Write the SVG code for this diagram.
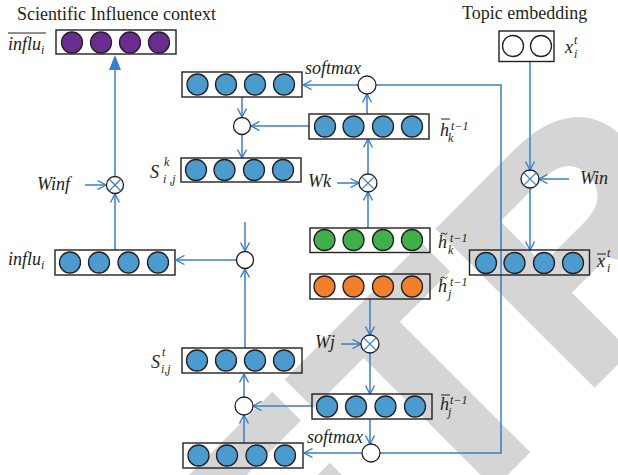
<svg xmlns="http://www.w3.org/2000/svg" width="618" height="475" viewBox="0 0 618 475">
<style>
.wm{font-family:"Liberation Sans",Arial,sans-serif;font-weight:bold;font-size:320px;fill:#d5d5d5;stroke:#d5d5d5;stroke-width:5;stroke-linejoin:miter}
.box{fill:none;stroke:#231f20;stroke-width:1.4}
.cb{fill:#4b9bcf;stroke:#231f20;stroke-width:1.3}
.cp{fill:#6b2c91;stroke:#231f20;stroke-width:1.3}
.cg{fill:#3fb04a;stroke:#231f20;stroke-width:1.3}
.co{fill:#f27f2c;stroke:#231f20;stroke-width:1.3}
.cw{fill:#fff;stroke:#231f20;stroke-width:1.3}
.op{fill:#fff;stroke:#231f20;stroke-width:1.3}
.x{stroke:#3a7dc9;stroke-width:1.3}
.ln{fill:none;stroke:#3a7dc9;stroke-width:1.5}
.ar{fill:none;stroke:#3a7dc9;stroke-width:1.5;marker-end:url(#v)}
.t{font-family:"Liberation Serif","Times New Roman",serif;fill:#231f20}
.m{font-family:"Liberation Serif","Times New Roman",serif;font-style:italic;fill:#231f20;font-size:18px}
.s{font-size:12px}
.ov{stroke:#231f20;stroke-width:1}
.tl{fill:none;stroke:#231f20;stroke-width:0.9}
</style>
<defs>
<marker id="v" viewBox="0 0 10 10" refX="9.5" refY="5" markerWidth="10" markerHeight="10" markerUnits="userSpaceOnUse" orient="auto">
<path d="M1,0.5 L9.5,5 L1,9.5" fill="none" stroke="#3a7dc9" stroke-width="1.4"/>
</marker>
</defs>
<g id="watermark">
<text class="wm" transform="translate(127,852) rotate(-45)" x="0" y="0">RETRACTED</text>
</g>
<g id="connectors">
<line class="ln" x1="115" y1="176" x2="115" y2="68"/>
<polygon points="115,55 109,70 121,70" fill="#3a7dc9"/>
<line class="ar" x1="115" y1="250" x2="115" y2="194"/>
<line class="ar" x1="85" y1="185" x2="106" y2="185"/>
<line class="ar" x1="236" y1="260" x2="176" y2="260"/>
<line class="ar" x1="245" y1="222" x2="245" y2="251"/>
<line class="ar" x1="245" y1="348" x2="245" y2="269"/>
<line class="ar" x1="244" y1="397" x2="244" y2="374"/>
<line class="ar" x1="312" y1="406" x2="253" y2="406"/>
<line class="ar" x1="244" y1="443" x2="244" y2="415"/>
<line class="ar" x1="362" y1="453" x2="304" y2="453"/>
<polyline class="ln" points="380,453 501,453 501,85 376,85"/>
<line class="ar" x1="358" y1="85" x2="303" y2="85"/>
<line class="ar" x1="367" y1="114" x2="367" y2="94"/>
<line class="ar" x1="242" y1="97" x2="242" y2="117"/>
<line class="ar" x1="309" y1="126" x2="251" y2="126"/>
<line class="ar" x1="242" y1="135" x2="242" y2="158"/>
<line class="ar" x1="337" y1="183" x2="359" y2="183"/>
<line class="ar" x1="368" y1="228" x2="368" y2="192"/>
<line class="ar" x1="368" y1="174" x2="368" y2="139"/>
<line class="ar" x1="370" y1="299" x2="370" y2="335"/>
<line class="ar" x1="341" y1="344" x2="361" y2="344"/>
<line class="ar" x1="370" y1="353" x2="370" y2="394"/>
<line class="ar" x1="370" y1="419" x2="370" y2="444"/>
<line class="ar" x1="530" y1="62" x2="530" y2="170"/>
<line class="ar" x1="569" y1="179" x2="539" y2="179"/>
<line class="ar" x1="530" y1="188" x2="530" y2="250"/>
</g>
<g id="influ_bar">
<rect class="box" x="56" y="30" width="120" height="24"/>
<circle class="cp" cx="72" cy="42.5" r="10.5"/><circle class="cp" cx="101" cy="42.5" r="10.5"/><circle class="cp" cx="130" cy="42.5" r="10.5"/><circle class="cp" cx="159" cy="42.5" r="10.5"/>
<text class="m" x="8" y="50">influ<tspan class="s" dy="4">i</tspan></text>
<line class="ov" x1="8" y1="33" x2="46" y2="33"/>
</g>
<g id="softmax_k_box">
<rect class="box" x="182" y="72" width="120" height="25"/>
<circle class="cb" cx="197.5" cy="84.5" r="10.5"/><circle class="cb" cx="226" cy="84.5" r="10.5"/><circle class="cb" cx="255" cy="84.5" r="10.5"/><circle class="cb" cx="284" cy="84.5" r="10.5"/>
</g>
<g id="softmax_k"><circle class="op" cx="367" cy="85" r="9"/><text class="m" x="305" y="74">softmax</text></g>
<g id="dot_k"><circle class="op" cx="242" cy="126" r="8.5"/></g>
<g id="hbar_k">
<rect class="box" x="309" y="114" width="120" height="25"/>
<circle class="cb" cx="325" cy="126.5" r="10.5"/><circle class="cb" cx="353.5" cy="126.5" r="10.5"/><circle class="cb" cx="383" cy="126.5" r="10.5"/><circle class="cb" cx="412" cy="126.5" r="10.5"/>
<text class="m" x="440" y="136">h</text><line class="ov" x1="441" y1="119" x2="450" y2="119"/>
<text class="m s" x="451" y="130">t−1</text><text class="m s" x="448" y="142">k</text>
</g>
<g id="S_k">
<rect class="box" x="181" y="158" width="120" height="24"/>
<circle class="cb" cx="196" cy="170" r="10.5"/><circle class="cb" cx="224.5" cy="170" r="10.5"/><circle class="cb" cx="254" cy="170" r="10.5"/><circle class="cb" cx="283" cy="170" r="10.5"/>
<text class="m" x="150" y="178" font-size="20">S</text><text class="m s" x="164" y="166">k</text><text class="m s" x="163" y="183">i ,j</text>
</g>
<g id="Winf">
<circle class="op" cx="115" cy="185" r="8.5"/>
<line class="x" x1="109" y1="179" x2="121" y2="191"/><line class="x" x1="121" y1="179" x2="109" y2="191"/>
<text class="m" x="37" y="190">Winf</text>
</g>
<g id="Wk">
<circle class="op" cx="368" cy="183" r="9"/>
<line class="x" x1="361.6" y1="176.6" x2="374.4" y2="189.4"/><line class="x" x1="374.4" y1="176.6" x2="361.6" y2="189.4"/>
<text class="m" x="308" y="187">Wk</text>
</g>
<g id="topic">
<rect class="box" x="499" y="31" width="55" height="30.5"/>
<circle class="cw" cx="513" cy="46" r="10.5"/><circle class="cw" cx="541" cy="46" r="10.5"/>
<text class="t" x="462" y="19" font-size="18">Topic embedding</text>
<text class="m" x="565" y="53">x</text><text class="m s" x="574" y="44">t</text><text class="m s" x="574" y="58">i</text>
</g>
<text class="t" x="17" y="20" font-size="18">Scientific Influence context</text>
<g id="Win">
<circle class="op" cx="530" cy="179" r="9"/>
<line class="x" x1="523.6" y1="172.6" x2="536.4" y2="185.4"/><line class="x" x1="536.4" y1="172.6" x2="523.6" y2="185.4"/>
<text class="m" x="580" y="184">Win</text>
</g>
<g id="xbar">
<rect class="box" x="469.5" y="250" width="120" height="25"/>
<circle class="cb" cx="486" cy="263" r="10.5"/><circle class="cb" cx="514.5" cy="263" r="10.5"/><circle class="cb" cx="544" cy="263" r="10.5"/><circle class="cb" cx="573" cy="263" r="10.5"/>
<text class="m" x="597" y="267">x</text><line class="ov" x1="597" y1="254" x2="606" y2="254"/>
<text class="m s" x="607" y="257">t</text><text class="m s" x="607" y="272">i</text>
</g>
<g id="htilde_k">
<rect class="box" x="310" y="228" width="120" height="24.5"/>
<circle class="cg" cx="324.5" cy="240" r="10.5"/><circle class="cg" cx="353.5" cy="240" r="10.5"/><circle class="cg" cx="383" cy="240" r="10.5"/><circle class="cg" cx="412" cy="240" r="10.5"/>
<text class="m" x="438" y="248">h</text><path class="tl" d="M440.5,234.5 q1.5,-2.5 3.5,-0.8 t3.5,-0.8"/>
<text class="m s" x="450" y="242">t−1</text><text class="m s" x="448" y="254">k</text>
</g>
<g id="htilde_j">
<rect class="box" x="310" y="274" width="120" height="25"/>
<circle class="co" cx="324.5" cy="286.5" r="10.5"/><circle class="co" cx="353.5" cy="286.5" r="10.5"/><circle class="co" cx="383" cy="286.5" r="10.5"/><circle class="co" cx="412" cy="286.5" r="10.5"/>
<text class="m" x="438" y="292">h</text><path class="tl" d="M440.5,278.5 q1.5,-2.5 3.5,-0.8 t3.5,-0.8"/>
<text class="m s" x="450" y="286">t−1</text><text class="m s" x="448" y="298">j</text>
</g>
<g id="influ">
<rect class="box" x="55" y="250" width="120" height="25"/>
<circle class="cb" cx="70" cy="262.5" r="10.5"/><circle class="cb" cx="99" cy="262.5" r="10.5"/><circle class="cb" cx="128.5" cy="262.5" r="10.5"/><circle class="cb" cx="158" cy="262.5" r="10.5"/>
<text class="m" x="8" y="265">influ<tspan class="s" dy="4">i</tspan></text>
</g>
<g id="dot_influ"><circle class="op" cx="245" cy="260" r="8.5"/></g>
<g id="Wj">
<circle class="op" cx="370" cy="344" r="9"/>
<line class="x" x1="363.6" y1="337.6" x2="376.4" y2="350.4"/><line class="x" x1="376.4" y1="337.6" x2="363.6" y2="350.4"/>
<text class="m" x="315" y="348">Wj</text>
</g>
<g id="S_t">
<rect class="box" x="182" y="348" width="120" height="25"/>
<circle class="cb" cx="197" cy="360.5" r="10.5"/><circle class="cb" cx="226" cy="360.5" r="10.5"/><circle class="cb" cx="255" cy="360.5" r="10.5"/><circle class="cb" cx="284" cy="360.5" r="10.5"/>
<text class="m" x="151" y="368" font-size="20">S</text><text class="m s" x="162" y="356">t</text><text class="m s" x="161" y="373">i,j</text>
</g>
<g id="dot_j"><circle class="op" cx="244" cy="406" r="9"/></g>
<g id="hbar_j">
<rect class="box" x="312" y="394" width="120" height="25"/>
<circle class="cb" cx="327" cy="406.5" r="10.5"/><circle class="cb" cx="356" cy="406.5" r="10.5"/><circle class="cb" cx="385.5" cy="406.5" r="10.5"/><circle class="cb" cx="415" cy="406.5" r="10.5"/>
<text class="m" x="440" y="410">h</text><line class="ov" x1="441" y1="395" x2="450" y2="395"/>
<text class="m s" x="450" y="404">t−1</text><text class="m s" x="448" y="416">j</text>
</g>
<g id="softmax_j"><circle class="op" cx="371" cy="453" r="9"/><text class="m" x="307" y="443">softmax</text></g>
<g id="softmax_j_box">
<rect class="box" x="183" y="443" width="120" height="25"/>
<circle class="cb" cx="198.5" cy="455.5" r="10.5"/><circle class="cb" cx="227" cy="455.5" r="10.5"/><circle class="cb" cx="256.5" cy="455.5" r="10.5"/><circle class="cb" cx="285" cy="455.5" r="10.5"/>
</g>
</svg>
